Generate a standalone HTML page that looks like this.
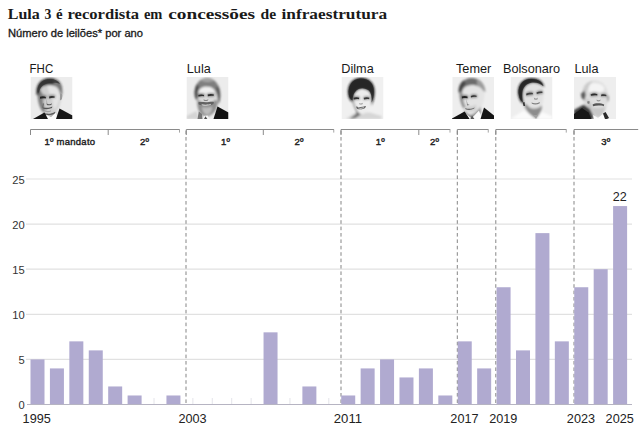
<!DOCTYPE html>
<html lang="pt-BR"><head><meta charset="utf-8"><title>Lula 3 é recordista em concessões de infraestrutura</title>
<style>
html,body{margin:0;padding:0;background:#fff;}
body{width:641px;height:432px;overflow:hidden;font-family:"Liberation Sans",sans-serif;}
svg{display:block}
.t{font-family:"Liberation Serif",serif;font-weight:bold;font-size:15.2px;fill:#1a1a1a}
.s{font-family:"Liberation Sans",sans-serif;font-size:10.2px;fill:#1a1a1a;stroke:#1a1a1a;stroke-width:.3}
.n{font-family:"Liberation Sans",sans-serif;font-size:12.7px;fill:#1a1a1a}
.m{font-family:"Liberation Sans",sans-serif;font-size:9.5px;letter-spacing:.25px;fill:#222;stroke:#222;stroke-width:.4}
.y{font-family:"Liberation Sans",sans-serif;font-size:11.2px;fill:#333}
.x{font-family:"Liberation Sans",sans-serif;font-size:13.5px;fill:#222}
.g{stroke:#e1e1e1;stroke-width:1.2}
.b{fill:#b0aad0}
.d{stroke:#858585;stroke-width:1;stroke-dasharray:3.6 2.8;fill:none}
.k{stroke:#8a8a8a;stroke-width:1;fill:none}
.k2{stroke:#a5a5a5;stroke-width:1;fill:none}
</style></head><body>
<svg width="641" height="432" viewBox="0 0 641 432">
<rect width="641" height="432" fill="#fff"/>
<defs><filter id="b1" x="-10%" y="-10%" width="120%" height="120%"><feGaussianBlur stdDeviation="0.8"/></filter><filter id="b2" x="-10%" y="-10%" width="120%" height="120%"><feGaussianBlur stdDeviation="0.4"/></filter></defs>
<text class="t" y="18.6"><tspan x="7.8" textLength="32.0" lengthAdjust="spacingAndGlyphs">Lula</tspan> <tspan x="44.4" textLength="6.8" lengthAdjust="spacingAndGlyphs">3</tspan> <tspan x="56.0" textLength="6.6" lengthAdjust="spacingAndGlyphs">é</tspan> <tspan x="67.5" textLength="71.5" lengthAdjust="spacingAndGlyphs">recordista</tspan> <tspan x="143.9" textLength="18.5" lengthAdjust="spacingAndGlyphs">em</tspan> <tspan x="168.3" textLength="86.8" lengthAdjust="spacingAndGlyphs">concessões</tspan> <tspan x="260.6" textLength="15.6" lengthAdjust="spacingAndGlyphs">de</tspan> <tspan x="281.5" textLength="105.7" lengthAdjust="spacingAndGlyphs">infraestrutura</tspan></text>
<text class="s" x="8" y="37" textLength="135" lengthAdjust="spacingAndGlyphs">Número de leilões* por ano</text>
<line class="g" x1="26" x2="632" y1="359.40" y2="359.40"/>
<text class="y" x="24.8" y="364.00" text-anchor="end">5</text>
<line class="g" x1="26" x2="632" y1="314.30" y2="314.30"/>
<text class="y" x="24.8" y="318.90" text-anchor="end">10</text>
<line class="g" x1="26" x2="632" y1="269.20" y2="269.20"/>
<text class="y" x="24.8" y="273.80" text-anchor="end">15</text>
<line class="g" x1="26" x2="632" y1="224.10" y2="224.10"/>
<text class="y" x="24.8" y="228.70" text-anchor="end">20</text>
<line class="g" x1="26" x2="632" y1="179.00" y2="179.00"/>
<text class="y" x="24.8" y="183.60" text-anchor="end">25</text>
<text class="y" x="24.8" y="409.10" text-anchor="end">0</text>
<line class="d" x1="186.00" x2="186.00" y1="130.6" y2="404.5"/>
<line class="d" x1="341.00" x2="341.00" y1="130.6" y2="404.5"/>
<line class="d" x1="457.30" x2="457.30" y1="130.6" y2="404.5"/>
<line class="d" x1="495.80" x2="495.80" y1="130.6" y2="404.5"/>
<line class="d" x1="574.00" x2="574.00" y1="130.6" y2="404.5"/>
<line x1="37.50" x2="37.50" y1="398.0" y2="404.5" stroke="#e4e4ea" stroke-width="1"/>
<line x1="56.92" x2="56.92" y1="398.0" y2="404.5" stroke="#e4e4ea" stroke-width="1"/>
<line x1="76.34" x2="76.34" y1="398.0" y2="404.5" stroke="#e4e4ea" stroke-width="1"/>
<line x1="95.76" x2="95.76" y1="398.0" y2="404.5" stroke="#e4e4ea" stroke-width="1"/>
<line x1="115.18" x2="115.18" y1="398.0" y2="404.5" stroke="#e4e4ea" stroke-width="1"/>
<line x1="134.60" x2="134.60" y1="398.0" y2="404.5" stroke="#e4e4ea" stroke-width="1"/>
<line x1="154.02" x2="154.02" y1="398.0" y2="404.5" stroke="#e4e4ea" stroke-width="1"/>
<line x1="173.44" x2="173.44" y1="398.0" y2="404.5" stroke="#e4e4ea" stroke-width="1"/>
<line x1="192.86" x2="192.86" y1="398.0" y2="404.5" stroke="#e4e4ea" stroke-width="1"/>
<line x1="212.28" x2="212.28" y1="398.0" y2="404.5" stroke="#e4e4ea" stroke-width="1"/>
<line x1="231.70" x2="231.70" y1="398.0" y2="404.5" stroke="#e4e4ea" stroke-width="1"/>
<line x1="251.12" x2="251.12" y1="398.0" y2="404.5" stroke="#e4e4ea" stroke-width="1"/>
<line x1="270.54" x2="270.54" y1="398.0" y2="404.5" stroke="#e4e4ea" stroke-width="1"/>
<line x1="289.96" x2="289.96" y1="398.0" y2="404.5" stroke="#e4e4ea" stroke-width="1"/>
<line x1="309.38" x2="309.38" y1="398.0" y2="404.5" stroke="#e4e4ea" stroke-width="1"/>
<line x1="328.80" x2="328.80" y1="398.0" y2="404.5" stroke="#e4e4ea" stroke-width="1"/>
<line x1="348.22" x2="348.22" y1="398.0" y2="404.5" stroke="#e4e4ea" stroke-width="1"/>
<line x1="367.64" x2="367.64" y1="398.0" y2="404.5" stroke="#e4e4ea" stroke-width="1"/>
<line x1="387.06" x2="387.06" y1="398.0" y2="404.5" stroke="#e4e4ea" stroke-width="1"/>
<line x1="406.48" x2="406.48" y1="398.0" y2="404.5" stroke="#e4e4ea" stroke-width="1"/>
<line x1="425.90" x2="425.90" y1="398.0" y2="404.5" stroke="#e4e4ea" stroke-width="1"/>
<line x1="445.32" x2="445.32" y1="398.0" y2="404.5" stroke="#e4e4ea" stroke-width="1"/>
<line x1="464.74" x2="464.74" y1="398.0" y2="404.5" stroke="#e4e4ea" stroke-width="1"/>
<line x1="484.16" x2="484.16" y1="398.0" y2="404.5" stroke="#e4e4ea" stroke-width="1"/>
<line x1="503.58" x2="503.58" y1="398.0" y2="404.5" stroke="#e4e4ea" stroke-width="1"/>
<line x1="523.00" x2="523.00" y1="398.0" y2="404.5" stroke="#e4e4ea" stroke-width="1"/>
<line x1="542.42" x2="542.42" y1="398.0" y2="404.5" stroke="#e4e4ea" stroke-width="1"/>
<line x1="561.84" x2="561.84" y1="398.0" y2="404.5" stroke="#e4e4ea" stroke-width="1"/>
<line x1="581.26" x2="581.26" y1="398.0" y2="404.5" stroke="#e4e4ea" stroke-width="1"/>
<line x1="600.68" x2="600.68" y1="398.0" y2="404.5" stroke="#e4e4ea" stroke-width="1"/>
<line x1="620.10" x2="620.10" y1="398.0" y2="404.5" stroke="#e4e4ea" stroke-width="1"/>
<rect class="b" x="30.50" y="359.40" width="14" height="45.10"/>
<rect class="b" x="49.92" y="368.42" width="14" height="36.08"/>
<rect class="b" x="69.34" y="341.36" width="14" height="63.14"/>
<rect class="b" x="88.76" y="350.38" width="14" height="54.12"/>
<rect class="b" x="108.18" y="386.46" width="14" height="18.04"/>
<rect class="b" x="127.60" y="395.48" width="14" height="9.02"/>
<rect class="b" x="166.44" y="395.48" width="14" height="9.02"/>
<rect class="b" x="263.54" y="332.34" width="14" height="72.16"/>
<rect class="b" x="302.38" y="386.46" width="14" height="18.04"/>
<rect class="b" x="341.22" y="395.48" width="14" height="9.02"/>
<rect class="b" x="360.64" y="368.42" width="14" height="36.08"/>
<rect class="b" x="380.06" y="359.40" width="14" height="45.10"/>
<rect class="b" x="399.48" y="377.44" width="14" height="27.06"/>
<rect class="b" x="418.90" y="368.42" width="14" height="36.08"/>
<rect class="b" x="438.32" y="395.48" width="14" height="9.02"/>
<rect class="b" x="457.74" y="341.36" width="14" height="63.14"/>
<rect class="b" x="477.16" y="368.42" width="14" height="36.08"/>
<rect class="b" x="496.58" y="287.24" width="14" height="117.26"/>
<rect class="b" x="516.00" y="350.38" width="14" height="54.12"/>
<rect class="b" x="535.42" y="233.12" width="14" height="171.38"/>
<rect class="b" x="554.84" y="341.36" width="14" height="63.14"/>
<rect class="b" x="574.26" y="287.24" width="14" height="117.26"/>
<rect class="b" x="593.68" y="269.20" width="14" height="135.30"/>
<rect class="b" x="613.10" y="206.06" width="14" height="198.44"/>
<line x1="27" x2="632" y1="404.5" y2="404.5" stroke="#b6b4c2" stroke-width="1"/>
<text class="x" x="22.60" y="422.7" textLength="28.2" lengthAdjust="spacingAndGlyphs">1995</text>
<text class="x" x="178.46" y="422.7" textLength="28.2" lengthAdjust="spacingAndGlyphs">2003</text>
<text class="x" x="333.82" y="422.7" textLength="28.2" lengthAdjust="spacingAndGlyphs">2011</text>
<text class="x" x="450.34" y="422.7" textLength="28.2" lengthAdjust="spacingAndGlyphs">2017</text>
<text class="x" x="489.18" y="422.7" textLength="28.2" lengthAdjust="spacingAndGlyphs">2019</text>
<text class="x" x="566.86" y="422.7" textLength="28.2" lengthAdjust="spacingAndGlyphs">2023</text>
<text class="x" x="605.60" y="422.7" textLength="28.2" lengthAdjust="spacingAndGlyphs">2025</text>
<text class="x" x="619.70" y="201" text-anchor="middle" style="font-size:12.6px">22</text>
<path class="k" d="M30.5 135V129.5H179.75"/>
<line class="k2" x1="179.5" x2="179.5" y1="129.5" y2="132.6"/>
<line class="k" x1="108.2" x2="108.2" y1="129.5" y2="135"/>
<text class="n" x="29.6" y="73" textLength="23.6" lengthAdjust="spacingAndGlyphs">FHC</text>
<svg x="30.5" y="77" width="42" height="42" viewBox="0 0 42 42" overflow="hidden">
<rect width="42" height="42" fill="#ececec"/>
<g filter="url(#b1)">
<path d="M7 15C6.5 7 12 2 19.5 2C27 2 31.5 8 31 17C30.5 25 29 31 24.5 35.5C21 38.5 16 38 13 35C9 30 7.5 22 7 15Z" fill="#cfcfcf"/>
<path d="M17 9C22 8 27 10 29 15C30 21 28 28 24 33C22 30 23 24 21 20C19 16 17 13 17 9Z" fill="#e4e4e4"/>
<path d="M7 12C6.5 18 7.5 27 10.5 32.5C12.5 35.5 15 36.5 15 33.5C13 29 12.4 24 12.6 20C12.6 16 10.5 13 7 12Z" fill="#808080"/>
<path d="M6 18C4.5 7.5 10.5 1 19.5 1C28.5 1 33 7.5 31.6 18L29.8 17C29.6 12.5 27 9 23 8.2C19 7.6 14.5 7.8 12 9.6C10 11.4 8.6 14 8.4 18Z" fill="#3a3a3a"/>
<path d="M23.5 2.4C28.5 4 32 9 31.6 18L29.8 17C29.6 12.5 27 9 23 8.2Z" fill="#7a7a7a"/>
<path d="M12 35.5L17 39.5L25 35L27 42H13Z" fill="#a8a8a8"/>
<path d="M8.8 18.6C11 17.4 14.4 17.4 16.2 18.8L15.8 22C13.4 21.4 11 21.6 9.2 22.4Z" fill="#7a7a7a"/>
<path d="M18 18.4C20.2 17.2 23.4 17.2 25 18.2L24.6 21.4C22.2 20.8 20.2 21 18.6 22Z" fill="#8c8c8c"/>
</g>
<g>
<path d="M7 15.5C6 8 11.5 2 19.5 2C24 2 27.5 3.6 29.6 7C27 5.6 23 5.6 19 6C13.5 6.6 9.6 9.5 8.6 15.5Z" fill="#333" opacity=".8"/>
<path d="M9.4 19.8C11 19 13.8 19 15.4 20L15.2 21.4C13.4 21 11.2 21.2 9.6 21.8Z" fill="#262626"/>
<path d="M18.6 19.6C20.2 18.8 22.8 18.8 24.2 19.6L24 20.8C22.2 20.6 20.2 20.8 18.8 21.4Z" fill="#303030"/>
<path d="M15.9 21.6L17 26.5L15.6 27.4Z" fill="#b0b0b0"/>
<path d="M13 35.6C16 37.4 21 37.2 24.6 34.8L24.8 36.2C21 38.6 16 38.8 13.2 37Z" fill="#5a5a5a"/>
<path d="M16.2 26.6C18 27.6 20.2 27.4 21.4 26.2L21 27.8C19.2 28.6 17.4 28.4 16.4 28Z" fill="#5c5c5c"/>
<path d="M12.2 30.2C15.5 31.2 19.2 31 21.8 29.6L21.5 31C18.6 32.4 15 32.4 12.5 31.6Z" fill="#555"/>
<path d="M12.4 26L11.4 30.8L12.6 31.6L13.6 26.8Z" fill="#707070"/>
<path d="M14 33.6C16.5 34.4 19 34.2 20.6 33.2L20.4 34.4C18.6 35.4 16 35.4 14.2 34.6Z" fill="#a4a4a4"/>
<path d="M29.6 16.4C32 16 32.4 19 31.2 22.6L29.4 23.6Z" fill="#9a9a9a"/>
<path d="M16 38L20.5 40L25.5 35.5L27.5 42H14.5Z" fill="#fbfbfb"/>
<path d="M2.5 42L14 35.5L17.5 42Z" fill="#181818"/>
<path d="M25.5 42L29 31.6L42 38.5V42Z" fill="#181818"/>
</g></svg>
<path class="k" d="M186.3 135V129.5H334"/>
<line class="k2" x1="333.75" x2="333.75" y1="129.5" y2="132.6"/>
<line class="k" x1="263.3" x2="263.3" y1="129.5" y2="135"/>
<text class="n" x="186.8" y="73">Lula</text>
<svg x="186.5" y="77" width="42" height="42" viewBox="0 0 42 42" overflow="hidden">
<rect width="42" height="42" fill="#ececec"/>
<g filter="url(#b1)">
<path d="M8.5 15C8.5 6 14 1.5 20.5 1.5C28 1.5 33 8 33 17C33 25 30.5 32 25 36.5C20 39.5 13.5 37 11.5 31C10 27 8.5 21 8.5 15Z" fill="#dcdcdc"/>
<path d="M13 12C16 9.500 24 9 28 11.500C29 14 28 16 26 16.500C22 15.500 17 15.800 14 17C12.500 16 12.500 14 13 12Z" fill="#efefef"/>
<path d="M8.300 19C7 8 13 1 20.500 1C28.500 1 34 8 33.700 19C33.700 22 33 25 31.500 27C31.800 19 29.500 12.500 24 10C18.500 8.500 13 10 11.600 15.500C11 18.500 11 21 10.800 23.500C9.200 22.500 8.600 20.500 8.300 19Z" fill="#7e7e7e"/>
<path d="M14 3C17 1.500 24 1.500 27.500 3.500C25 5.500 17 5.500 14 3Z" fill="#a8a8a8"/>
<path d="M8.300 19C7.600 14 8.500 10 10.500 7L12.500 10C11.300 13 11 18 10.800 23.500C9.200 22.500 8.600 20.500 8.300 19Z" fill="#4a4a4a"/>
<path d="M31.500 9C33.500 12 34.200 16 33.700 20C33.500 23 32.800 25 31.500 27C31.800 21 31.300 15 29.300 11.500Z" fill="#585858"/>
<path d="M10.800 25C11 22.500 13 23 14.500 25C18 26.500 23 26.500 27 24.500C28.500 22.500 31 22.500 31 25.500C31 31.500 28 36.500 22.500 39C17.500 40.500 13 37.500 11.700 32C11 29.500 10.800 27.500 10.800 25Z" fill="#8e8e8e"/>
<path d="M15.500 30C19 31 23 30.500 25.500 29.500C26 33 24.500 36.500 21 38C18 37.500 15.500 34.500 15.500 30Z" fill="#bcbcbc"/>
<path d="M0 42V39L10 34L13 42Z" fill="#d4d4d4"/>
<path d="M11.400 17.200C13.500 16 16.500 16 18.200 17.200L17.800 20.200C15.500 19.600 13.500 19.800 11.800 20.600Z" fill="#777"/>
<path d="M20.800 16.800C23 15.600 26 15.600 28 16.800L27.600 19.800C25 19.200 23 19.400 21.200 20.200Z" fill="#777"/>
</g>
<g>
<path d="M11.800 25.400C13.500 24.600 17 25.200 19.500 25.200C22 25.200 25.600 24.200 27.400 25L27 27C23 29 16.500 29 12.200 27.400Z" fill="#626262"/>
<path d="M15 27.200C18 28 22 27.800 24.600 26.800L24 28C21.500 29 18 29 15.400 28.200Z" fill="#dadada"/>
<path d="M11.800 18C13.500 17.200 16 17.200 17.600 18L17.400 19.200C15.500 18.900 13.500 19 12 19.600Z" fill="#2e2e2e"/>
<path d="M21.200 17.600C23 16.800 25.600 16.800 27.400 17.600L27.200 18.800C25 18.500 23 18.600 21.400 19.200Z" fill="#2e2e2e"/>
<path d="M17 22.200C18.500 23.200 20.500 23.200 22 22L21.200 23.800C19.600 24.200 18 24 17.200 23.400Z" fill="#858585"/>
<path d="M27 42L31 29.500L42 35.500V42Z" fill="#121212"/>
<path d="M11 42L12.300 34.500L15.500 37L16 42Z" fill="#777"/>
<path d="M16.500 42L17.500 39L21 38.500L23 42Z" fill="#f4f4f4"/>
<path d="M17.500 42L19 39.200L20.800 42Z" fill="#4a4a4a"/>
</g></svg>
<path class="k" d="M341 135V129.5H450.25"/>
<line class="k2" x1="450.0" x2="450.0" y1="129.5" y2="132.6"/>
<line class="k" x1="418.8" x2="418.8" y1="129.5" y2="135"/>
<text class="n" x="341.3" y="73">Dilma</text>
<svg x="341.5" y="77" width="42" height="42" viewBox="0 0 42 42" overflow="hidden">
<rect width="42" height="42" fill="#f0f0f0"/>
<g filter="url(#b1)">
<path d="M4 42L13 36L28 35.500L40 39V42Z" fill="#d6d6d6"/>
<path d="M10 20C10 12 15 8 21 8C27 8 31 13 30.500 21C30 28.500 27 34 22 37C17.500 38 11 30 10 20Z" fill="#ededed"/>
<path d="M6.500 18C5 8 10.500 1.500 18.500 0.800C27 0 33.800 6 33.200 15C33.200 20 32 25 29.500 29C30.500 22 30 17.500 27.500 14.500C24.500 11.500 18.500 11 15.500 14C12.500 16.500 11.300 20 11.600 26C8.600 24 7 21 6.500 18Z" fill="#2a2a2a"/>
<path d="M12 26C13 31 16 35.500 19.500 37.500L14 41L8 42L15 36.500Z" fill="#707070"/>
<path d="M10.600 22C10.800 27 12.500 31.500 15 34.500L16 32C13.500 29 12.600 26 12.400 22Z" fill="#a8a8a8"/>
<path d="M11.600 20C13.600 18.600 16.600 18.600 18.400 19.800L18 23C15.800 22.400 13.800 22.600 12 23.400Z" fill="#8a8a8a"/>
<path d="M21.800 20C24 18.600 26.800 18.600 28.600 19.800L28 23C25.800 22.400 24 22.600 22.200 23.400Z" fill="#949494"/>
</g>
<g>
<path d="M7.400 18C6 9 11 2.200 18.500 1.600C26.500 1 32.800 6.400 32.300 15C32.200 19 31.500 22.500 30.200 25.500C30.500 20 29.500 16 27.500 13.600C24.500 10.600 18 10.200 15 13.200C12.400 15.600 11.200 19 11 23.500C9 22.500 7.800 20.500 7.400 18Z" fill="#262626" opacity=".85"/>
<path d="M12 20.800C13.600 20 16 20 17.700 20.800L17.500 22.200C15.800 21.900 13.800 22 12.300 22.600Z" fill="#303030"/>
<path d="M22.200 20.800C24 20 26.400 20 27.900 20.800L27.600 22.200C25.800 21.900 24 22 22.500 22.600Z" fill="#3a3a3a"/>
<path d="M17.600 26C18.600 26.800 20.400 26.800 21.400 25.800L21 27.200C19.800 27.800 18.600 27.600 17.800 27.200Z" fill="#9a9a9a"/>
<path d="M14.600 29.400C17.500 30.400 21.500 30.200 24.400 29L23.600 31C21 32.600 17.500 32.600 15.400 31.400Z" fill="#444"/>
<path d="M16 30.300C18 30.900 21 30.800 23 30.200L22.600 31C20.800 31.800 18 31.800 16.400 31.200Z" fill="#e4e4e4"/>
</g></svg>
<path class="k" d="M457.3 135V129.5H488.5"/>
<line class="k2" x1="488.25" x2="488.25" y1="129.5" y2="132.6"/>
<text class="n" x="456" y="73">Temer</text>
<svg x="452" y="77" width="42" height="42" viewBox="0 0 42 42" overflow="hidden">
<rect x="0.500" width="41.500" height="42" fill="#eeeeee"/>
<g filter="url(#b1)">
<path d="M7.500 16C7 8 12.500 2.500 19.500 2.500C27.500 2.500 33 9 32.500 18C32 26 29 32.500 23.500 37C18.500 39 12 33 10 26Z" fill="#e4e4e4"/>
<path d="M6.800 16C5.800 7.500 12 1 19.500 1C27 1 32.600 6 33.400 14.500L31.500 14C30 10 25 7.800 19.500 8C14 8.200 10.400 11 9.800 16Z" fill="#6c6c6c"/>
<path d="M25 2.500C29.800 4.500 33 8.500 33.400 14.500L31.500 14C30.500 11.500 28.500 9.600 25 8.600Z" fill="#9c9c9c"/>
<path d="M6.800 15.500C6.200 10 8.500 5.500 11.800 3.300L13.600 7C11 9.400 10 12 9.800 16Z" fill="#454545"/>
<path d="M7.500 14.500C7 20 8.500 27 11.500 31.500L13.500 30C11.500 25.500 10.300 20 10.500 15Z" fill="#8e8e8e"/>
<path d="M12 32C14 36.500 17.500 38.500 20.500 37.500C23.500 36 27 33 28.500 29.500L29 36L20 42L13 40Z" fill="#8c8c8c"/>
<path d="M9.200 18.800C11.500 17.400 14.500 17.400 16.400 18.800L16 22.200C13.500 21.600 11.500 21.600 9.600 22.400Z" fill="#707070"/>
<path d="M18.400 18C20.500 16.600 23.500 16.600 25.400 17.800L25 21C22.500 20.400 20.500 20.600 18.800 21.400Z" fill="#858585"/>
<path d="M13 28.500C16 30 21 29.500 24 27.500L24.500 33C21 35 16 35 13.500 33Z" fill="#cfcfcf"/>
</g>
<g>
<path d="M9.800 19.600C11.500 18.800 14 18.800 15.600 19.800L15.400 21.200C13.500 20.800 11.500 20.800 10 21.400Z" fill="#242424"/>
<path d="M18.800 19C20.500 18 23 18 24.600 18.800L24.400 20C22.500 19.700 20.500 19.800 19 20.400Z" fill="#343434"/>
<path d="M14.400 22L15.600 27L17.800 28L15 28.600Z" fill="#858585"/>
<path d="M13.200 31C16 32.400 20 32 22.600 30.400L22.200 31.600C19.600 33.200 15.800 33.400 13.600 32.200Z" fill="#666"/>
<path d="M13.500 36L19.500 41.500L27 33.500L30 42H12.500Z" fill="#fbfbfb"/>
<path d="M-1 42L12.600 34.400L17.600 42Z" fill="#141414"/>
<path d="M28.500 42L32 30.500L42 38.500V42Z" fill="#141414"/>
<path d="M18.400 42L20 38.600L22.400 42Z" fill="#555"/>
</g></svg>
<path class="k" d="M495.8 135V129.5H566.5"/>
<line class="k2" x1="566.25" x2="566.25" y1="129.5" y2="132.6"/>
<text class="n" x="503" y="73">Bolsonaro</text>
<svg x="510.5" y="77" width="42" height="42" viewBox="0 0 42 42" overflow="hidden">
<rect width="42" height="42" fill="#eeeeee"/>
<g filter="url(#b1)">
<path d="M0 42L13 33.500L19 36L26 41L31 35L42 39.500V42Z" fill="#fbfbfb"/>
<path d="M10 16C10 8 15 3.500 22 3.500C29.500 3.500 34 10 33 19C32.500 27 30 35 25.500 40C19 39.500 13 33 11.500 26Z" fill="#e2e2e2"/>
<path d="M13.500 27.500C14 25.500 16.500 27.500 18.500 30C21.500 32.500 26.500 32.500 31.500 28.500C31.500 33.500 29 38 25.500 41.500C20.500 39 15 33.500 13.500 27.500Z" fill="#8c8c8c"/>
<path d="M8 19.500C5.500 11 10 2.500 18.500 1.300C27 0.200 33 4 33.800 10.500C30.500 7 26.500 5.400 21.500 6C16.500 6.800 13.300 10 12.600 15C12.200 19 12.600 24 13.600 27.500C10.500 26 8.600 23 8 19.500Z" fill="#2b2b2b"/>
<path d="M15.200 16C17.500 14.400 21 14.200 23 15L22.600 18.600C20.200 18.200 17.800 18.600 15.800 19.600Z" fill="#858585"/>
<path d="M25.600 14.800C28 13.400 31 13.200 32.600 14L32.200 17.200C30 16.800 28 17.200 26.200 18.200Z" fill="#858585"/>
</g>
<g>
<path d="M8.600 19C6.600 11 10.500 3.300 18.500 2.100C26 1.100 31.800 4 33 9.300C30 6.300 26 5 21.500 5.500C16 6.300 12.400 10 11.800 15.500C11.500 19 11.800 23 12.600 25.500C10.400 24 9 21.800 8.600 19Z" fill="#262626" opacity=".85"/>
<path d="M15.600 16.800C17.500 15.600 20.500 15.400 22.400 16L22.200 17.400C20.200 17.200 17.800 17.600 16 18.400Z" fill="#404040"/>
<path d="M26 15.600C28 14.400 30.500 14.200 32 14.800L31.800 16C30 15.800 28 16.200 26.400 17Z" fill="#404040"/>
<path d="M23.400 20.600C24.400 21.800 26.400 21.800 27.400 20.600L27 22.400C25.800 23 24.400 22.800 23.600 22.200Z" fill="#9a9a9a"/>
<path d="M21 25.600C23.500 26.600 27 26.400 29.400 25L29 26.400C26.600 27.800 23.400 27.800 21.400 26.800Z" fill="#808080"/>
<path d="M12.200 25.500L14 25L14.600 29L13 29Z" fill="#333"/>
<path d="M23 38L25.500 42L27.500 38Z" fill="#a0a0a0"/>
</g></svg>
<path class="k" d="M574 135V129.5H638.2"/>
<text class="n" x="574.5" y="73">Lula</text>
<svg x="574" y="77" width="42" height="42" viewBox="0 0 42 42" overflow="hidden">
<rect width="42" height="42" fill="#eeeeee"/>
<g filter="url(#b1)">
<path d="M8 18C8 9 13 3.500 20.500 3.500C28.500 3.500 34 10 34 19C34 28 31 36 25 40.500C17 41 9 30 8 18Z" fill="#dedede"/>
<path d="M16 7C20 5 27 6 30 10C31 13 29 15 26 15C22 14 18 14.500 15.500 15.500C14 13 14.500 9 16 7Z" fill="#f4f4f4"/>
<path d="M9 13C10 8 13.500 4.500 19 4C16 7 14 10 13 14L12 19L8.500 19Z" fill="#cacaca"/>
<path d="M6.800 17L10.200 13.500L11.800 18L10.400 23.500L7.600 21Z" fill="#5a5a5a"/>
<path d="M17 30C21 31.500 27 31.500 31.500 29.500C31.500 34 29.500 38 25 40.500C21 39.500 18 35 17 30Z" fill="#c8c8c8"/>
<path d="M33 19L35 18.400L35 23L33.400 25.500Z" fill="#9a9a9a"/>
<path d="M0 42V33L10 27.500L16 32L19 38L20 42Z" fill="#3c3c3c"/>
<path d="M16.200 16.600C18.500 15.200 22 15.200 24 16.400L23.600 19.600C21.200 19 18.800 19.200 16.800 20Z" fill="#858585"/>
<path d="M26.600 17C28.800 15.800 31.400 16 33 17.200L32.600 20.200C30.600 19.600 28.800 19.600 27 20.200Z" fill="#8a8a8a"/>
<path d="M12 22C13 27 15 31 17 33L18 28L14 22Z" fill="#c4c4c4"/>
</g>
<g>
<path d="M16.600 17.400C18.500 16.400 21.500 16.400 23.400 17.200L23.200 18.400C21.200 18.100 18.800 18.200 17 18.800Z" fill="#2c2c2c"/>
<path d="M27 17.800C28.800 17 31 17.200 32.400 18L32.200 19.200C30.600 18.900 28.800 18.900 27.300 19.200Z" fill="#383838"/>
<path d="M22.600 22.600C23.600 23.600 25.600 23.600 26.600 22.600L26.200 24C25.200 24.600 23.800 24.600 22.800 24Z" fill="#949494"/>
<path d="M18.600 27.400C21 25.800 27 25.800 30.200 27.600L29.800 29.200C27 28.400 22 28.400 19 29.200Z" fill="#555"/>
<path d="M13.600 24L15.800 24.600L15.200 27L13.200 26.200Z" fill="#808080"/>
<path d="M0 42V37L8 31L14.500 35.500L17.500 42Z" fill="#181818"/>
<path d="M19 38L24 41L29 37L31 42H20Z" fill="#fbfbfb"/>
<path d="M29 36.600L31.600 35L35 41L33 42H31Z" fill="#2a2a2a"/>
</g></svg>
<text class="m" x="69.9" y="144.6" text-anchor="middle">1º mandato</text>
<text class="m" x="144.6" y="144.6" text-anchor="middle">2º</text>
<text class="m" x="225.7" y="144.6" text-anchor="middle">1º</text>
<text class="m" x="299.2" y="144.6" text-anchor="middle">2º</text>
<text class="m" x="380.3" y="144.6" text-anchor="middle">1º</text>
<text class="m" x="434.6" y="144.6" text-anchor="middle">2º</text>
<text class="m" x="605.9" y="144.6" text-anchor="middle">3º</text>
</svg></body></html>
